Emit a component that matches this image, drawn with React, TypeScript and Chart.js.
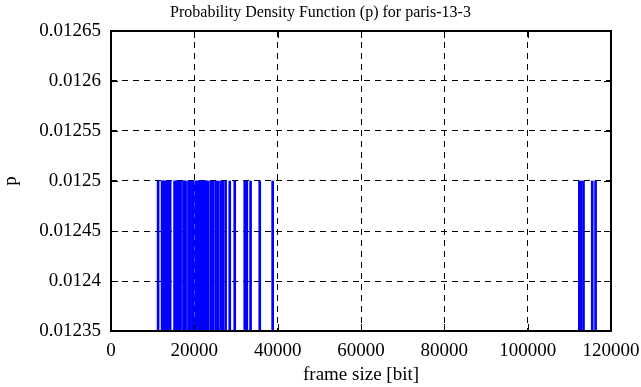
import React, { useEffect, useRef } from "react";
import { Chart, registerables } from "chart.js";

Chart.register(...registerables);

// frame sizes [bit] observed (impulse positions)
const frameSizes: number[] = [
  11300, 12250, 12450, 12700, 12950, 13200, 13450, 13700, 13950, 14200,
  15250, 15500, 15700, 15950, 16200, 16450, 16700,
  17400, 17650, 17900, 18600, 18850, 19100, 19600, 20300, 20550, 20800,
  21050, 21300, 21500, 21700, 21950, 22200, 22450, 22700, 22950, 23200,
  23900, 24400, 25100, 25600, 26300, 26800, 27500, 28500,
  29700, 32100, 32600, 33500, 35700, 38800,
  112400, 112800, 113400, 115500, 116300,
];
// probability of each frame size
const probValues: number[] = frameSizes.map(() => 0.0125);

const xTicks: number[] = [0, 20000, 40000, 60000, 80000, 100000, 120000];
const yTicks: number[] = [0.01235, 0.0124, 0.01245, 0.0125, 0.01255, 0.0126, 0.01265];

const titleText = "Probability Density Function (p) for paris-13-3";
const xTitle = "frame size [bit]";
const yTitle = "p";

const FONT = "'Liberation Serif', 'Times New Roman', serif";

const framePlugin = {
  id: "gnuplotFrame",
  afterDraw(chart: any) {
    const { ctx, chartArea, scales } = chart;
    const { left, right, top, bottom } = chartArea;
    const x = scales.x;
    const y = scales.y;
    const tl = 7;
    ctx.save();
    ctx.strokeStyle = "#000";
    ctx.lineWidth = 1;
    ctx.setLineDash([]);
    ctx.beginPath();
    x.ticks.forEach((t: any) => {
      const px = Math.round(x.getPixelForValue(t.value)) + 0.5;
      ctx.moveTo(px, bottom);
      ctx.lineTo(px, bottom - tl);
      ctx.moveTo(px, top);
      ctx.lineTo(px, top + tl);
    });
    y.ticks.forEach((t: any) => {
      const py = Math.round(y.getPixelForValue(t.value)) + 0.5;
      ctx.moveTo(left, py);
      ctx.lineTo(left + tl, py);
      ctx.moveTo(right, py);
      ctx.lineTo(right - tl, py);
    });
    ctx.stroke();
    ctx.lineWidth = 2;
    ctx.strokeRect(left, top, right - left, bottom - top);
    ctx.restore();
  },
};

function fmtY(v: number): string {
  return String(parseFloat(v.toFixed(5)));
}

export default function App() {
  const ref = useRef<HTMLCanvasElement | null>(null);

  useEffect(() => {
    if (!ref.current) return;
    const chart = new Chart(ref.current, {
      type: "bar",
      data: {
        datasets: [
          {
            data: frameSizes.map((fs, i) => ({ x: fs, y: probValues[i] })) as any,
            backgroundColor: "#0000ff",
            borderWidth: 0,
            barThickness: 2,
            base: yTicks[0],
          } as any,
        ],
      },
      plugins: [framePlugin],
      options: {
        responsive: false,
        animation: false,
        devicePixelRatio: 1,
        layout: { padding: 0 },
        plugins: {
          legend: { display: false },
          tooltip: { enabled: false },
          title: {
            display: true,
            text: titleText,
            color: "#000",
            font: { family: FONT, size: 16, weight: "normal" },
            padding: { top: 3, bottom: 8.8 },
          },
        },
        scales: {
          x: {
            type: "linear",
            min: xTicks[0],
            max: xTicks[xTicks.length - 1],
            offset: false,
            z: 1,
            afterBuildTicks: (scale: any) => {
              scale.ticks = xTicks.map((v) => ({ value: v }));
            },
            afterFit: (scale: any) => {
              scale.height = 56;
              scale.paddingLeft = 0;
              scale.paddingRight = 30;
            },
            grid: {
              offset: false,
              color: "#000",
              lineWidth: 1,
              drawTicks: false,
            },
            border: { display: false, dash: [6, 5] },
            ticks: {
              color: "#000",
              font: { family: FONT, size: 19 },
              padding: 9,
              maxRotation: 0,
              autoSkip: false,
              callback: (v: any) => String(v),
            },
            title: {
              display: true,
              text: xTitle,
              color: "#000",
              font: { family: FONT, size: 19 },
              padding: { top: 0, bottom: 1 },
            },
          },
          y: {
            type: "linear",
            min: yTicks[0],
            max: yTicks[yTicks.length - 1],
            z: 1,
            afterBuildTicks: (scale: any) => {
              scale.ticks = yTicks.map((v) => ({ value: v }));
            },
            afterFit: (scale: any) => {
              scale.width = 111;
              scale.paddingTop = 0;
              scale.paddingBottom = 0;
            },
            grid: {
              color: "#000",
              lineWidth: 1,
              drawTicks: false,
            },
            border: { display: false, dash: [6, 5] },
            ticks: {
              color: "#000",
              font: { family: FONT, size: 19 },
              padding: 10,
              autoSkip: false,
              callback: (v: any) => fmtY(Number(v)),
            },
            title: {
              display: true,
              text: yTitle,
              color: "#000",
              font: { family: FONT, size: 19 },
              padding: { top: 0, bottom: 0 },
            },
          },
        },
      } as any,
    });
    return () => chart.destroy();
  }, []);

  return (
    <div style={{ position: "absolute", left: 0, top: 0, width: 641, height: 387, background: "#fff" }}>
      <canvas ref={ref} width={641} height={387} style={{ width: 641, height: 387 }} />
    </div>
  );
}
